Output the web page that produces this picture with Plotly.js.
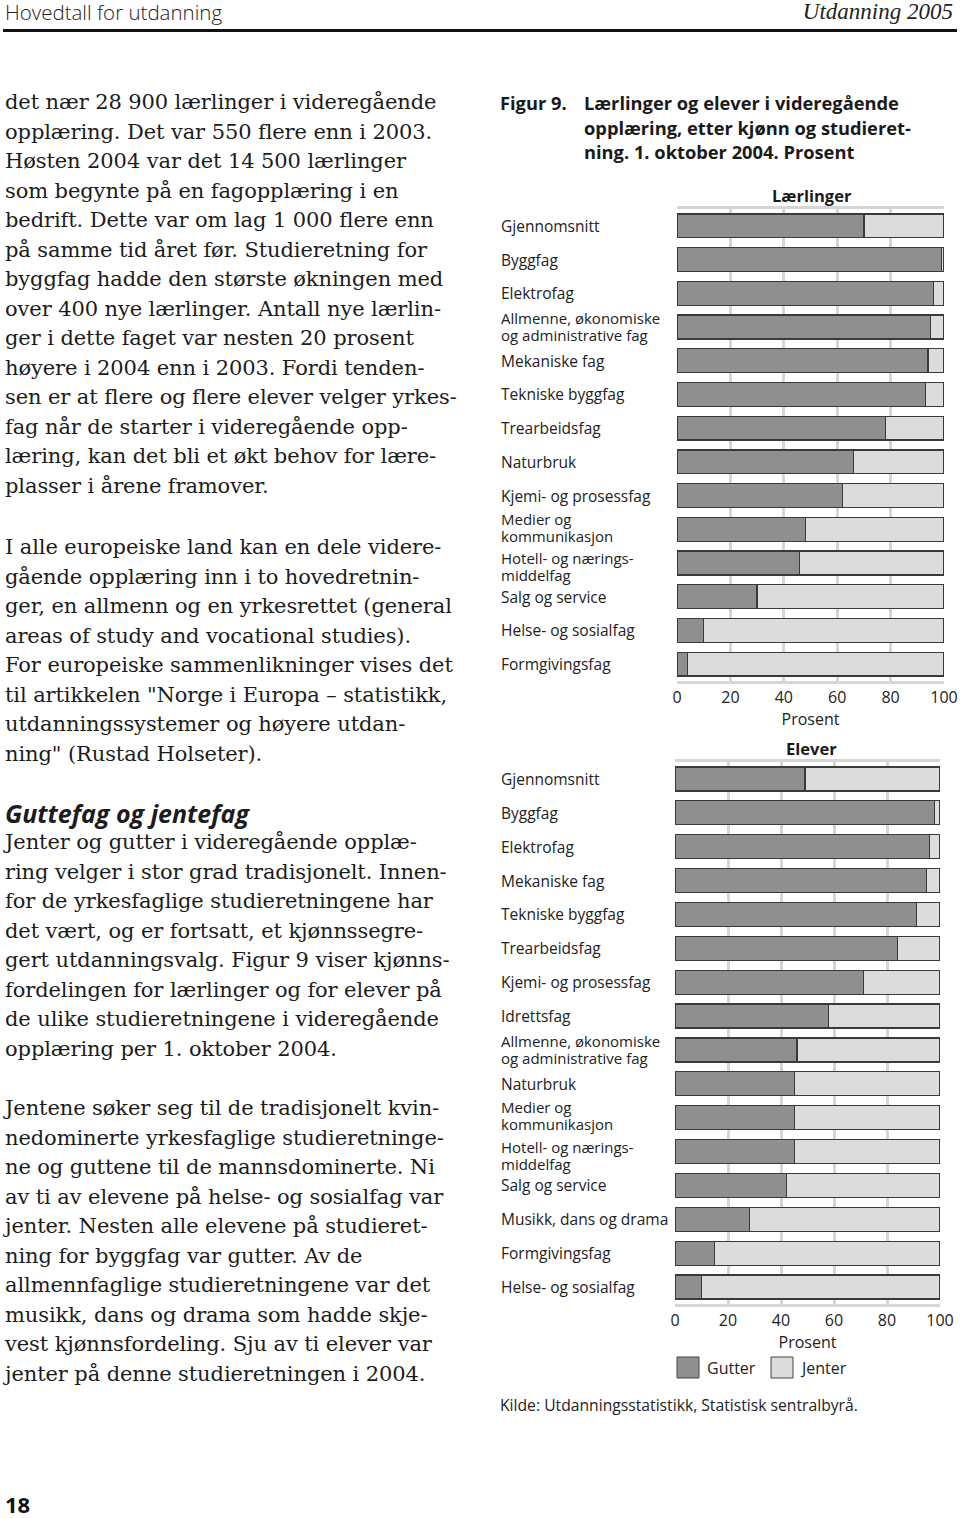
<!DOCTYPE html>
<html><head><meta charset="utf-8">
<script src="https://cdn.plot.ly/plotly-3.0.1.min.js"></script>
<style>
body{margin:0;width:960px;height:1518px;position:relative;background:#fff;overflow:hidden}
#chart{position:absolute;left:0;top:0;width:960px;height:1518px}
.hd{position:absolute;top:0;height:26px;line-height:24px;color:#222;white-space:nowrap}
.para{position:absolute;left:5px;font-family:"DejaVu Serif";font-size:21px;line-height:29.5px;color:#1c1c1c;white-space:pre;letter-spacing:-0.1px}
.h2{position:absolute;left:5px;font-family:"Open Sans";font-weight:bold;font-style:italic;font-size:25px;line-height:30px;color:#1c1c1c;white-space:nowrap}
</style>
</head><body>
<div id="chart"></div>
<div class="hd" style="left:5px;font-family:'Open Sans';font-size:20.5px;font-weight:300">Hovedtall for utdanning</div>
<div class="hd" style="right:7px;font-family:'Liberation Serif';font-style:italic;font-size:23px">Utdanning 2005</div>
<div style="position:absolute;left:3px;top:29px;width:954px;height:3px;background:#111"></div>
<div class="para" style="top:88px">det nær 28 900 lærlinger i videregående
opplæring. Det var 550 flere enn i 2003.
Høsten 2004 var det 14 500 lærlinger
som begynte på en fagopplæring i en
bedrift. Dette var om lag 1 000 flere enn
på samme tid året før. Studieretning for
byggfag hadde den største økningen med
over 400 nye lærlinger. Antall nye lærlin-
ger i dette faget var nesten 20 prosent
høyere i 2004 enn i 2003. Fordi tenden-
sen er at flere og flere elever velger yrkes-
fag når de starter i videregående opp-
læring, kan det bli et økt behov for lære-
plasser i årene framover.</div>
<div class="para" style="top:533px">I alle europeiske land kan en dele videre-
gående opplæring inn i to hovedretnin-
ger, en allmenn og en yrkesrettet (general
areas of study and vocational studies).
For europeiske sammenlikninger vises det
til artikkelen "Norge i Europa – statistikk,
utdanningssystemer og høyere utdan-
ning" (Rustad Holseter).</div>
<div class="h2" style="top:798px">Guttefag og jentefag</div>
<div class="para" style="top:828px">Jenter og gutter i videregående opplæ-
ring velger i stor grad tradisjonelt. Innen-
for de yrkesfaglige studieretningene har
det vært, og er fortsatt, et kjønnssegre-
gert utdanningsvalg. Figur 9 viser kjønns-
fordelingen for lærlinger og for elever på
de ulike studieretningene i videregående
opplæring per 1. oktober 2004.</div>
<div class="para" style="top:1094px">Jentene søker seg til de tradisjonelt kvin-
nedominerte yrkesfaglige studieretninge-
ne og guttene til de mannsdominerte. Ni
av ti av elevene på helse- og sosialfag var
jenter. Nesten alle elevene på studieret-
ning for byggfag var gutter. Av de
allmennfaglige studieretningene var det
musikk, dans og drama som hadde skje-
vest kjønnsfordeling. Sju av ti elever var
jenter på denne studieretningen i 2004.</div>
<div style="position:absolute;left:5px;top:1489px;font-family:'Open Sans';font-weight:bold;font-size:22px;line-height:30px;color:#111">18</div>
<script>
// Lærlinger (apprentices)
const catsL = ["Gjennomsnitt","Byggfag","Elektrofag","Allmenne, økonomiske<br>og administrative fag","Mekaniske fag","Tekniske byggfag","Trearbeidsfag","Naturbruk","Kjemi- og prosessfag","Medier og<br>kommunikasjon","Hotell- og nærings-<br>middelfag","Salg og service","Helse- og sosialfag","Formgivingsfag"];
const gutterL = [70,99,96,95,94,93,78,66,62,48,46,30,10,4];
const jenterL = [30,1,4,5,6,7,22,34,38,52,54,70,90,96];
// Elever (pupils)
const catsE = ["Gjennomsnitt","Byggfag","Elektrofag","Mekaniske fag","Tekniske byggfag","Trearbeidsfag","Kjemi- og prosessfag","Idrettsfag","Allmenne, økonomiske<br>og administrative fag","Naturbruk","Medier og<br>kommunikasjon","Hotell- og nærings-<br>middelfag","Salg og service","Musikk, dans og drama","Formgivingsfag","Helse- og sosialfag"];
const gutterE = [49,98,96,95,91,84,71,58,46,45,45,45,42,28,15,10];
const jenterE = [51,2,4,5,9,16,29,42,54,55,55,55,58,72,85,90];
const xTicks = [0,20,40,60,80,100];
const seriesNames = ["Gutter","Jenter"];

const FONT = "Open Sans";
const cG = "#8f8f8f", cJ = "#dcdcdc", cLine = "#3a3a3a", cGrid = "#d6d6d6";
const W = 960, H = 1518;
const px = v => v / W, py = v => 1 - v / H;

function bar(y, x, name, color, xa, ya){
  return {type:"bar", orientation:"h", y:y, x:x, name:name, xaxis:xa, yaxis:ya,
    width:0.71, marker:{color:color, line:{color:cLine, width:1.3}},
    showlegend:false, hoverinfo:"skip"};
}
const traces = [
  bar(catsL, gutterL, seriesNames[0], cG, "x", "y"),
  bar(catsL, jenterL, seriesNames[1], cJ, "x", "y"),
  bar(catsE, gutterE, seriesNames[0], cG, "x2", "y2"),
  bar(catsE, jenterE, seriesNames[1], cJ, "x2", "y2")
];

function xax(domain){
  return {domain:domain, range:[0,100], tickvals:xTicks, ticktext:xTicks.map(String),
    showgrid:true, gridcolor:cGrid, gridwidth:3, zeroline:false,
    showline:true, mirror:true, linecolor:cGrid, linewidth:3, ticks:"",
    tickfont:{family:FONT, size:16, color:"#222"},
    title:{text:"Prosent", font:{family:FONT, size:16, color:"#222"}, standoff:0}, fixedrange:true};
}
function yax(domain, cats){
  return {domain:domain, type:"category", categoryorder:"array", categoryarray:cats,
    range:[cats.length-0.5, -0.5], showticklabels:false, showgrid:false, zeroline:false,
    showline:false, ticks:"", fixedrange:true};
}

const ann = [];
// small vertical nudges of two-line labels, as in the printed figure
const labelNudge = {"Medier og<br>kommunikasjon": 2, "Hotell- og nærings-<br>middelfag": -4};
function catLabels(cats, yref){
  cats.forEach(c => {
    const parts = c.split("<br>");
    const nudge = labelNudge[c] || 0;
    parts.forEach((p, i) => {
      const two = parts.length > 1;
      const shift = (two ? (i === 0 ? 8.5 : -8.5) : 0) + nudge;
      ann.push({xref:"paper", yref:yref, x:px(500), y:c, yshift:shift, text:p, showarrow:false,
        xanchor:"left", yanchor:"middle", align:"left", borderpad:0,
        font:{family:FONT, size:two ? 15 : 15.5, color:"#222"}});
    });
  });
}
catLabels(catsL, "y");
catLabels(catsE, "y2");

function txt(x, y, t, opts){
  ann.push(Object.assign({xref:"paper", yref:"paper", x:x, y:y, text:t, showarrow:false,
    xanchor:"left", yanchor:"middle", align:"left", borderpad:0,
    font:{family:FONT, size:15, color:"#222"}}, opts||{}));
}
const bold = {family:FONT, size:18.3, color:"#1a1a1a"};
txt(px(499), py(103), "<b>Figur 9.</b>", {font:bold});
txt(px(583), py(103), "<b>Lærlinger og elever i videregående</b>", {font:bold});
txt(px(583), py(127.5), "<b>opplæring, etter kjønn og studieret-</b>", {font:bold});
txt(px(583), py(152), "<b>ning. 1. oktober 2004. Prosent</b>", {font:bold});
txt(px(812), py(195), "<b>Lærlinger</b>", {xanchor:"center", font:{family:FONT, size:16.5, color:"#1a1a1a"}});
txt(px(811), py(748), "<b>Elever</b>", {xanchor:"center", font:{family:FONT, size:16.5, color:"#1a1a1a"}});
txt(px(706), py(1368), seriesNames[0], {font:{family:FONT, size:16, color:"#222"}});
txt(px(799), py(1368), seriesNames[1], {font:{family:FONT, size:16, color:"#222"}});
txt(px(499), py(1405), "Kilde: Utdanningsstatistikk, Statistisk sentralbyrå.", {font:{family:FONT, size:15.7, color:"#222"}});

const shapes = [
  {type:"rect", xref:"paper", yref:"paper", x0:px(677), x1:px(699), y0:py(1378), y1:py(1357), fillcolor:cG, line:{color:"#444", width:1}},
  {type:"rect", xref:"paper", yref:"paper", x0:px(771), x1:px(793), y0:py(1378), y1:py(1357), fillcolor:cJ, line:{color:"#444", width:1}}
];

const layout = {
  width:W, height:H, margin:{l:0, r:0, t:0, b:0},
  paper_bgcolor:"#fff", plot_bgcolor:"#fff", barmode:"stack", bargap:0,
  xaxis: xax([px(677), px(944)]),
  yaxis: yax([py(681), py(209)], catsL),
  xaxis2: Object.assign(xax([px(675), px(940)]), {anchor:"y2"}),
  yaxis2: Object.assign(yax([py(1304), py(762)], catsE), {anchor:"x2"}),
  annotations: ann, shapes: shapes, showlegend:false
};
layout.xaxis.anchor = "y";
layout.yaxis.anchor = "x";
Plotly.newPlot("chart", traces, layout, {staticPlot:true, displayModeBar:false});
</script>
</body></html>
